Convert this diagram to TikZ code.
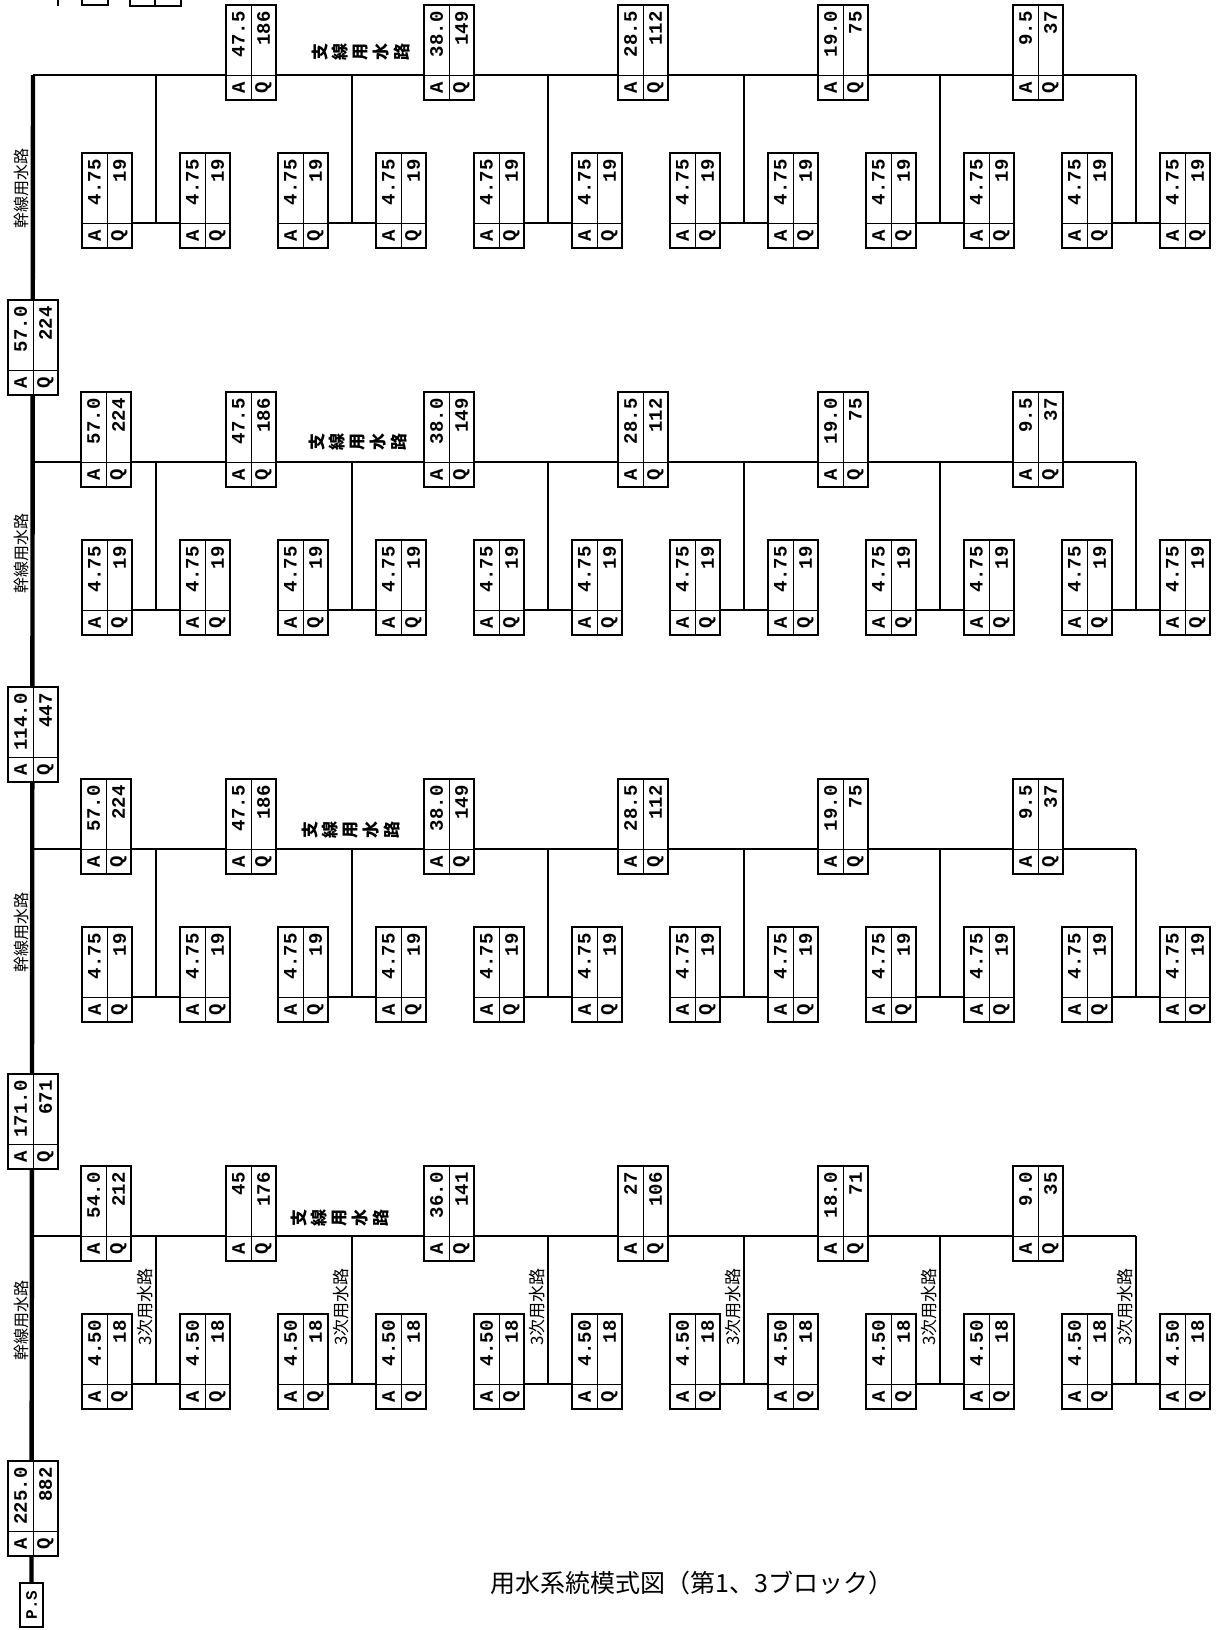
\documentclass[tikz,border=0pt]{standalone}
\usepackage{fontspec}
\setmonofont{Liberation Mono}
\newfontfamily\jpfont{Noto Sans CJK JP}
\usetikzlibrary{calc}

% box with A / Q cells: name, left x, divider y, A value, Q value
\newcommand{\aqbox}[5]{%
  \node[qbox] (#1) at (#2+25, #3-22.5) {};
  \draw[inner] (#1.north) -- (#1.south);
  \draw[inner] (#2, #3) -- (#2+50, #3);
  \node[val, anchor=east] (#1-av) at (#2+12.5, #3-64) {#4};
  \node[val, anchor=east] (#1-qv) at (#2+37.5, #3-64) {#5};
  \node[val] (#1-a) at (#2+12.5, #3+12.5) {A};
  \node[val] (#1-q) at (#2+37.5, #3+12.5) {Q};
  \coordinate (#1-w) at (#2, #3);
  \coordinate (#1-e) at (#2+50, #3);
}
% branch canal label, one turned character after another: name, centre x, centre y
\newcommand{\shisen}[3]{%
  \foreach \ch [count=\c] in {支,線,用,水,路}
    \node[sublabel] (#1-\c) at (#2-61.5+20.5*\c, #3) {\ch};
}

\begin{document}
\begin{tikzpicture}[x=0.5pt, y=-0.5pt,
    qbox/.style={draw, fill=white, line width=0.9pt, minimum width=25pt,
                 minimum height=47.5pt, inner sep=0pt},
    inner/.style={line width=0.45pt},
    val/.style={rotate=90, inner sep=0pt, font=\ttfamily\bfseries\fontsize{9.5}{9.5}\selectfont},
    psbox/.style={draw, fill=white, line width=0.9pt, rotate=90, minimum width=22pt,
                  minimum height=11.5pt, inner sep=0pt, font=\ttfamily\bfseries\fontsize{8}{8}\selectfont},
    trunk/.style={line width=2.2pt},
    branch/.style={line width=1pt},
    drop/.style={line width=1.2pt},
    mainlabel/.style={rotate=90, inner sep=0pt, font=\jpfont\fontsize{8}{8}\selectfont},
    sublabel/.style={rotate=90, inner sep=0pt, font=\jpfont\bfseries\fontsize{8.5}{8.5}\selectfont},
    minorlabel/.style={rotate=90, anchor=south, inner sep=0pt, font=\jpfont\fontsize{8.5}{8.5}\selectfont}
  ]
  \useasboundingbox (0,0) rectangle (1216,1630);

  %% ---- cut-off bits at the top edge
  \draw[line width=0.8pt] (58,0) -- (58,6);
  \draw[line width=0.8pt] (82,0) |- (108,5) -- (108,0);
  \draw[line width=0.8pt] (130,0) |- (181,6) -- (181,0);
  \draw[line width=0.8pt] (155,0) -- (155,6);

  %% ---- main canal (trunk) down to the pump station
  \node[psbox] (ps) at (31.5,1605) {P.S};
  \coordinate (top) at (33,75);
  \draw[trunk] (top) -- (ps);

  %% ---- four blocks: lower boxes, tertiary drops, branch line
  \foreach \k/\av/\qv in {0/4.75/19, 1/4.75/19, 2/4.75/19, 3/4.50/18}{
    \coordinate (c\k) at (33, 75+387*\k);
    \foreach \i in {0,...,11}
      \aqbox{l\k-\i}{82+98*\i}{223+387*\k}{\av}{\qv};
    \foreach \j [evaluate=\j as \ia using int(2*\j),
                 evaluate=\j as \ib using int(2*\j+1)] in {0,...,5}{
      \coordinate (m\k-\j) at ($(l\k-\ia-e)!.5!(l\k-\ib-w)$);
      \draw[branch] (l\k-\ia-e) -- (l\k-\ib-w);
      \draw[drop] (m\k-\j) -- (m\k-\j |- c\k);
    }
    \draw[branch] (c\k) -- (m\k-5 |- c\k);
  }

  %% ---- boxes on the branch lines
  \foreach \x/\av/\qv [count=\n] in {226/47.5/186, 424/38.0/149, 618/28.5/112, 818/19.0/75, 1013/9.5/37}
    \aqbox{b0-\n}{\x}{75}{\av}{\qv};
  \foreach \x/\av/\qv [count=\n] in {81/57.0/224, 226/47.5/186, 424/38.0/149, 618/28.5/112, 818/19.0/75, 1013/9.5/37}
    \aqbox{b1-\n}{\x}{462}{\av}{\qv};
  \foreach \x/\av/\qv [count=\n] in {81/57.0/224, 226/47.5/186, 424/38.0/149, 618/28.5/112, 818/19.0/75, 1013/9.5/37}
    \aqbox{b2-\n}{\x}{849}{\av}{\qv};
  \foreach \x/\av/\qv [count=\n] in {81/54.0/212, 226/45/176, 424/36.0/141, 618/27/106, 818/18.0/71, 1013/9.0/35}
    \aqbox{b3-\n}{\x}{1236}{\av}{\qv};

  %% ---- boxes on the trunk
  \aqbox{t1}{8}{370}{57.0}{224}
  \aqbox{t2}{8}{757}{114.0}{447}
  \aqbox{t3}{8}{1144}{171.0}{671}
  \aqbox{t4}{8}{1531}{225.0}{882}

  %% ---- labels
  \node[mainlabel] (ml0) at (21,188)  {幹線用水路};
  \node[mainlabel] (ml1) at (21,553)  {幹線用水路};
  \node[mainlabel] (ml2) at (21,932)  {幹線用水路};
  \node[mainlabel] (ml3) at (21,1320) {幹線用水路};
  \shisen{sl0}{361}{52}
  \shisen{sl1}{358}{442}
  \shisen{sl2}{351}{830}
  \shisen{sl3}{340}{1218}
  \foreach \j in {0,...,5}
    \node[minorlabel] (tl\j) at ($(m3-\j)+(-3,-77)$) {3次用水路};

  \node[font=\jpfont\fontsize{12.5}{12.5}\selectfont] (title) at (692,1583)
    {用水系統模式図（第1、3ブロック）};
\end{tikzpicture}
\end{document}
